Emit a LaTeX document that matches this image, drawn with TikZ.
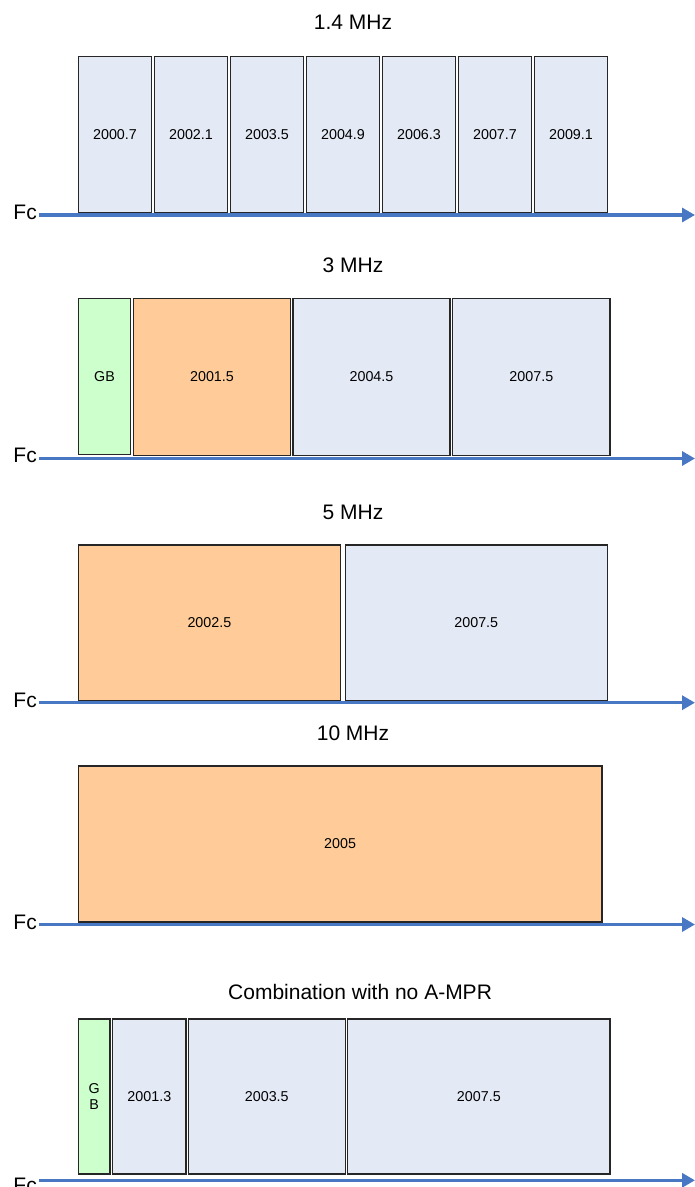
\documentclass[tikz,border=0pt]{standalone}
\usepackage{fontspec}
\setmainfont{Liberation Sans}
\usetikzlibrary{arrows.meta}
\definecolor{bandblue}{HTML}{E4EAF5}
\definecolor{bandorange}{HTML}{FFCC99}
\definecolor{bandgreen}{HTML}{CCFFCC}
\definecolor{axisblue}{HTML}{4878C4}
\begin{document}
\begin{tikzpicture}[x=1pt,y=-1pt,
  band/.style={draw=black!85, line width=1.1pt, inner sep=0pt, outer sep=0pt,
    font=\fontsize{14.3}{15.5}\selectfont, align=center},
  blueband/.style={band, fill=bandblue},
  orangeband/.style={band, fill=bandorange},
  greenband/.style={band, fill=bandgreen},
  title/.style={inner sep=0pt, anchor=base, font=\fontsize{21}{24}\selectfont},
  fclabel/.style={inner sep=0pt, anchor=base east, font=\fontsize{21}{24}\selectfont},
  freqaxis/.style={draw=axisblue, line width=3.2pt, -{Triangle[length=13pt,width=14pt]}}
]
\clip (0,0) rectangle (695,1187);
\fill[white] (0,0) rectangle (695,1187);

% ---------- 1.4 MHz ----------
\node[title] (t1) at (353,29.3) {1.4 MHz};
\foreach \cx/\lab/\nm in {115/2000.7/a, 191/2002.1/b, 267/2003.5/c, 343/2004.9/d, 419/2006.3/e, 495/2007.7/f, 571/2009.1/g}{
  \node[blueband, minimum width=73.4pt, minimum height=156.3pt] (s1\nm) at (\cx,134.2) {\lab};
}
\coordinate (a1s) at (39.3,215);
\coordinate (a1e) at (695,215);
\draw[freqaxis] (a1s) -- (a1e);
\node[fclabel] (f1) at (37,219) {Fc};

% ---------- 3 MHz ----------
\node[title] (t2) at (353,272) {3 MHz};
\node[greenband, minimum width=52.4pt, minimum height=156.5pt] (s2gb) at (104.5,376.3) {GB};
\node[orangeband, minimum width=157.4pt, minimum height=156.5pt] (s2a) at (212,376.8) {2001.5};
\node[blueband, minimum width=157pt, minimum height=156.5pt] (s2b) at (371.5,376.8) {2004.5};
\node[blueband, minimum width=157.3pt, minimum height=156.5pt] (s2c) at (531.35,376.8) {2007.5};
\coordinate (a2s) at (39.3,458.5);
\coordinate (a2e) at (695,458.5);
\draw[freqaxis] (a2s) -- (a2e);
\node[fclabel] (f2) at (37,462) {Fc};

% ---------- 5 MHz ----------
\node[title] (t3) at (353,519) {5 MHz};
\node[orangeband, minimum width=262.2pt, minimum height=156pt] (s3a) at (209.4,623) {2002.5};
\node[blueband, minimum width=262pt, minimum height=156pt] (s3b) at (476.3,623) {2007.5};
\coordinate (a3s) at (39.3,702.7);
\coordinate (a3e) at (695,702.7);
\draw[freqaxis] (a3s) -- (a3e);
\node[fclabel] (f3) at (37,707) {Fc};

% ---------- 10 MHz ----------
\node[title] (t4) at (353,740) {10 MHz};
\node[orangeband, minimum width=523.7pt, minimum height=156pt] (s4a) at (340.15,844) {2005};
\coordinate (a4s) at (39.3,924.5);
\coordinate (a4e) at (695,924.5);
\draw[freqaxis] (a4s) -- (a4e);
\node[fclabel] (f4) at (37,929) {Fc};

% ---------- Combination ----------
\node[title, anchor=base west] (t5) at (228,999) {Combination with no A-MPR};
\node[greenband, minimum width=31.7pt, minimum height=155pt] (s5gb) at (94.15,1096.5) {G\\B};
\node[blueband, minimum width=73.3pt, minimum height=155pt] (s5a) at (149.35,1096.5) {2001.3};
\node[blueband, minimum width=157pt, minimum height=155pt] (s5b) at (266.8,1096.5) {2003.5};
\node[blueband, minimum width=262.3pt, minimum height=155pt] (s5c) at (478.85,1096.5) {2007.5};
\coordinate (a5s) at (39.3,1180.3);
\coordinate (a5e) at (695,1180.3);
\draw[freqaxis] (a5s) -- (a5e);
\node[fclabel] (f5) at (37,1192) {Fc};
\end{tikzpicture}
\end{document}
